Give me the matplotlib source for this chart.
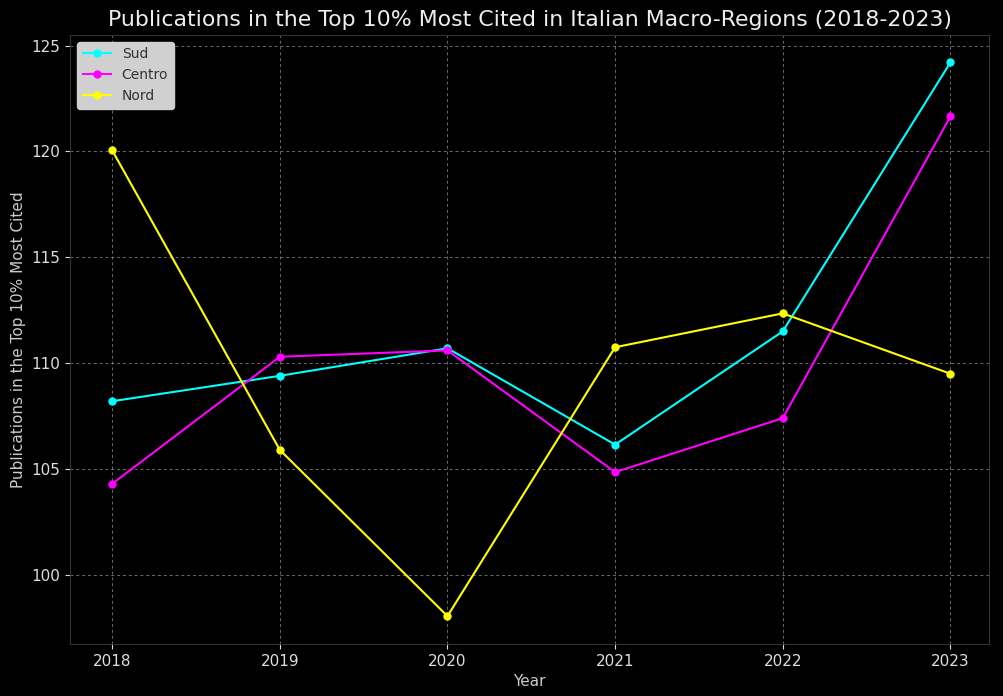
import matplotlib
matplotlib.use("Agg")
import matplotlib.pyplot as plt

years = [2018, 2019, 2020, 2021, 2022, 2023]
sud = [108.2, 109.4, 110.7, 106.15, 111.5, 124.2]
centro = [104.3, 110.3, 110.6, 104.85, 107.4, 121.65]
nord = [120.05, 105.9, 98.05, 110.75, 112.35, 109.5]

plt.style.use('dark_background')
fig, ax = plt.subplots(figsize=(10.04, 6.96), dpi=100)

ax.plot(years, sud, marker='o', color='cyan', label='Sud', markersize=5)
ax.plot(years, centro, marker='o', color='magenta', label='Centro', markersize=5)
ax.plot(years, nord, marker='o', color='yellow', label='Nord', markersize=5)

ax.set_title('Publications in the Top 10% Most Cited in Italian Macro-Regions (2018-2023)',
             fontsize=15.8, color='#eeeeee')
ax.set_xlabel('Year', fontsize=11, color='#cccccc')
ax.set_ylabel('Publications in the Top 10% Most Cited', fontsize=11, color='#cccccc')
ax.set_xticks(years)
ax.set_yticks([100, 105, 110, 115, 120, 125])
ax.set_xlim(2017.75, 2023.23)
ax.tick_params(colors='#dddddd', labelsize=11)
for s in ax.spines.values():
    s.set_color('#333333')

ax.grid(True, linestyle=(0, (3, 3)), color='#999999', alpha=0.7, linewidth=0.7)

leg = ax.legend(loc='upper left', facecolor='#d0d0d0', edgecolor='#d0d0d0',
                labelcolor='#333333', framealpha=1, fontsize=10)

fig.subplots_adjust(left=0.07, right=0.985, top=0.95, bottom=0.075)
fig.savefig('out.png', dpi=100)
